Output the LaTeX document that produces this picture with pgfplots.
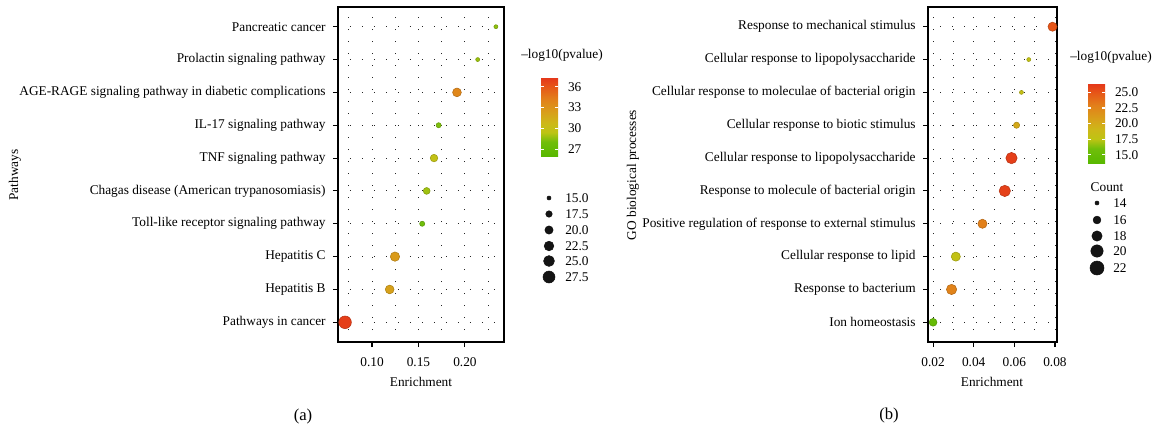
\documentclass[border=0pt]{standalone}
\usepackage{pgfplots}
\pgfplotsset{compat=1.18}
\usepackage{pgfplotstable}
\usepackage{fontspec}
\setmainfont{Liberation Serif}
\newcommand\fs{\fontsize{10}{12}\selectfont}

\pgfplotstableread{
x y p c
0.0710 1 37.0 29
0.1190 2 32.2 21
0.1247 3 32.6 22
0.1540 4 28.0 16
0.1588 5 28.9 18
0.1667 6 29.8 19
0.1717 7 28.3 16
0.1914 8 33.8 21
0.2137 9 28.8 15
0.2333 10 28.6 15
}\dataA

\pgfplotstableread{
x y p c
0.0200 1 15.0 16
0.0291 2 22.7 18
0.0312 3 17.9 17
0.0443 4 22.9 17
0.0553 5 25.9 19
0.0586 6 26.0 19
0.0611 7 20.1 15
0.0635 8 18.2 14
0.0671 9 17.9 14
0.0788 10 25.0 17
}\dataB

\pgfplotstableread{
x y c
549 198 15.0
549 214 17.5
549 230 20.0
549 246 22.5
549 261 25.0
549 277 27.5
}\legA

\pgfplotstableread{
x y c
1097 203 14
1097 220 16
1097 236 18
1097 251 20
1097 268 22
}\legB

\pgfplotsset{
  colormap={gr}{rgb255(0cm)=(88,184,0); rgb255(1.8cm)=(112,190,10); rgb255(3cm)=(190,196,20); rgb255(4.2cm)=(205,184,24); rgb255(5.5cm)=(216,160,26); rgb255(7.2cm)=(226,128,26); rgb255(8.8cm)=(230,86,24); rgb255(10cm)=(229,52,26)},
  colormap={blk}{rgb255(0cm)=(20,20,20); rgb255(1cm)=(20,20,20)},
  /pgf/number format/assume math mode=true,
  panel/.style={
    scale only axis,
    anchor=south west,
    ymin=0.4, ymax=10.6,
    ytick={1,...,10},
    scaled x ticks=false,
    tick align=outside,
    tick pos=left,
    major tick length=3.75pt,
    minor tick length=0pt,
    axis line style={black, line width=1pt},
    major tick style={black, line width=0.8pt},
    xmajorgrids, xminorgrids, ymajorgrids,
    major grid style={black!85, line width=0.7pt, dash pattern=on 0.9pt off 8.1pt},
    minor grid style={black!85, line width=0.7pt, dash pattern=on 0.9pt off 8.1pt},
    tick label style={font=\fs},
    xticklabel style={yshift=-4.5pt},
    yticklabel style={xshift=-2pt},
    colormap name=gr,
    clip=false,
  },
  cbar/.style={
    scale only axis,
    anchor=north west,
    axis line style={draw=none},
    ytick pos=both,
    yticklabel pos=right,
    tick align=inside,
    major tick length=2.6pt,
    major tick style={white, line width=0.8pt},
    tick label style={font=\fs},
    yticklabel style={xshift=4pt},
  },
}

\begin{document}
\begin{tikzpicture}
\useasboundingbox (0,0) rectangle (865.5pt,322.5pt);

% Panel (a)
\begin{axis}[panel,
  at={(253.5pt,66pt)}, width=124.5pt, height=251.25pt,
  xmin=0.0634, xmax=0.242,
  xtick={0.10,0.15,0.20}, xticklabels={0.10,0.15,0.20},
  minor xtick={0.075,0.125,0.175,0.225},
  yticklabels={Pathways in cancer, Hepatitis B, Hepatitis C, Toll-like receptor signaling pathway, Chagas disease (American trypanosomiasis), TNF signaling pathway, IL-17 signaling pathway, AGE-RAGE signaling pathway in diabetic complications, Prolactin signaling pathway, Pancreatic cancer},
  point meta min=26, point meta max=37.4,
  colorbar,
  colorbar style={cbar,
    at={(parent axis.north east)},
    xshift={27.75pt-0.3cm}, yshift=-52.5pt,
    width=12.75pt, height=59.25pt,
    ytick={27,30,33,36}, yticklabels={27,30,33,36},
  },
]
\addplot[scatter, only marks, mark=*,
  point meta=\thisrow{p},
  visualization depends on={0.375*sqrt(16+10.24*(\thisrow{c}-15)) \as \rad},
  scatter/@pre marker code/.append style={/tikz/mark size=\rad},
] table[x=x, y=y] {\dataA};
\end{axis}

% Panel (b)
\begin{axis}[panel,
  at={(696pt,66pt)}, width=96.75pt, height=251.25pt,
  xmin=0.0175, xmax=0.081,
  xtick={0.02,0.04,0.06,0.08}, xticklabels={0.02,0.04,0.06,0.08},
  minor xtick={0.03,0.05,0.07},
  yticklabels={Ion homeostasis, Response to bacterium, Cellular response to lipid, Positive regulation of response to external stimulus, Response to molecule of bacterial origin, Cellular response to lipopolysaccharide, Cellular response to biotic stimulus, Cellular response to moleculae of bacterial origin, Cellular response to lipopolysaccharide, Response to mechanical stimulus},
  point meta min=13.7, point meta max=26.5,
  colorbar,
  colorbar style={cbar,
    at={(parent axis.north east)},
    xshift={23.25pt-0.3cm}, yshift=-57pt,
    width=12.75pt, height=60pt,
    ytick={15,17.5,20,22.5,25}, yticklabels={15.0,17.5,20.0,22.5,25.0},
  },
]
\addplot[scatter, only marks, mark=*,
  point meta=\thisrow{p},
  visualization depends on={0.375*sqrt(16+22.5*(\thisrow{c}-14)) \as \rad},
  scatter/@pre marker code/.append style={/tikz/mark size=\rad},
] table[x=x, y=y] {\dataB};
\end{axis}

% Overlay: legends and titles (coordinates in image pixels)
\begin{axis}[
  at={(0pt,0pt)}, anchor=south west,
  scale only axis, width=865.5pt, height=322.5pt,
  xmin=0, xmax=1154, ymin=0, ymax=430, y dir=reverse,
  hide axis, clip=false, colormap name=blk,
]
% size keys (a)
\addplot[scatter, only marks, mark=*,
  point meta=\thisrow{c},
  visualization depends on={0.375*sqrt(16+10.24*(\thisrow{c}-15)) \as \rad},
  scatter/@pre marker code/.append style={/tikz/mark size=\rad},
] table[x=x, y=y] {\legA};
\addplot[only marks, mark=none,
  point meta=\thisrow{c},
  nodes near coords={\pgfmathprintnumber[fixed, fixed zerofill, precision=1]{\pgfplotspointmeta}},
  nodes near coords style={anchor=west, xshift=8.7pt, font=\fs, text=black},
] table[x=x, y=y] {\legA};
% size keys (b)
\addplot[scatter, only marks, mark=*,
  point meta=\thisrow{c},
  visualization depends on={0.375*sqrt(16+22.5*(\thisrow{c}-14)) \as \rad},
  scatter/@pre marker code/.append style={/tikz/mark size=\rad},
] table[x=x, y=y] {\legB};
\addplot[only marks, mark=none,
  point meta=\thisrow{c},
  nodes near coords={\pgfmathprintnumber[fixed, precision=0]{\pgfplotspointmeta}},
  nodes near coords style={anchor=west, xshift=8.7pt, font=\fs, text=black},
] table[x=x, y=y] {\legB};

\node[font=\fs] at (axis cs:562,55) {--log10(pvalue)};
\node[font=\fs] at (axis cs:1111,57) {--log10(pvalue)};
\node[font=\fs, anchor=west] at (axis cs:1086,187) {Count};
\node[font=\fs] at (axis cs:421,382) {Enrichment};
\node[font=\fs] at (axis cs:992,382) {Enrichment};
\node[font=\fs, rotate=90] at (axis cs:15,175) {Pathways};
\node[font=\fs, rotate=90] at (axis cs:633,175) {GO biological processes};
\node[font=\fontsize{12.5}{14}\selectfont] at (axis cs:303,416) {(a)};
\node[font=\fontsize{12.5}{14}\selectfont] at (axis cs:889,415) {(b)};
\end{axis}
\end{tikzpicture}
\end{document}
